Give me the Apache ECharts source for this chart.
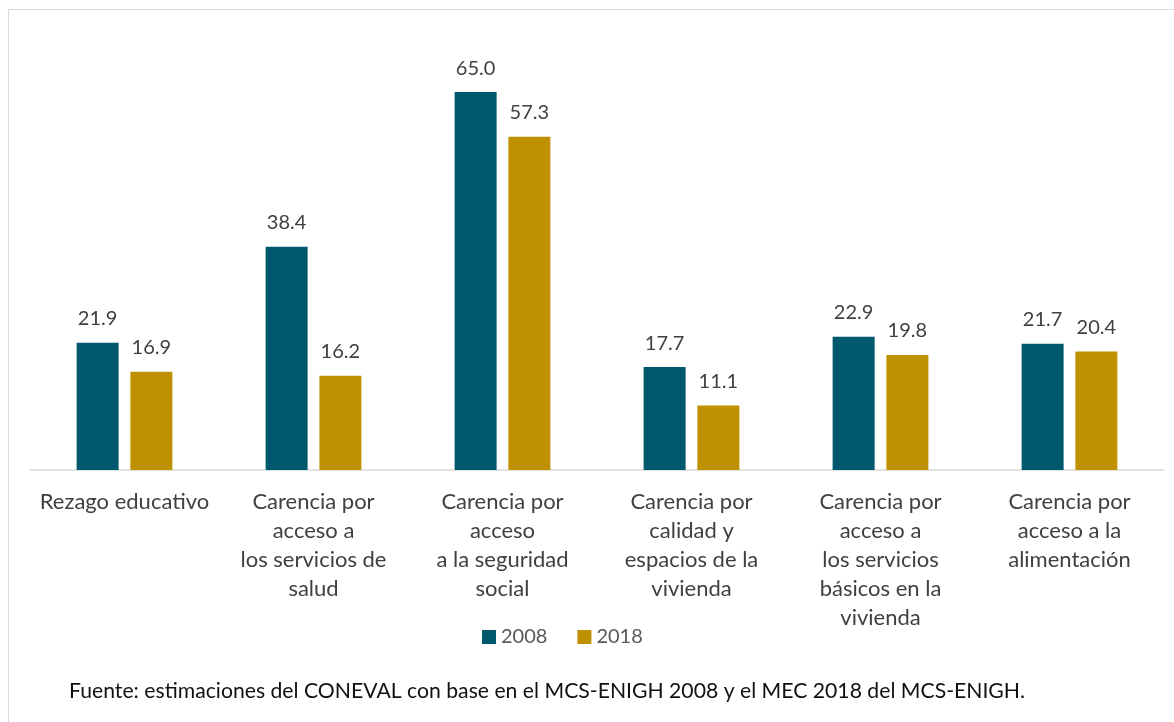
<!DOCTYPE html>
<html>
<head>
<meta charset="utf-8">
<script src="https://cdn.jsdelivr.net/npm/echarts@6/dist/echarts.min.js"></script>
<style>
  html, body { margin: 0; padding: 0; background: #fff; }
  #chart { width: 1174px; height: 722px; }
</style>
</head>
<body>
<div id="chart"></div>
<script>
// categorias y valores
const categories = [
  'Rezago educativo',
  'Carencia por\nacceso a\nlos servicios de\nsalud',
  'Carencia por\nacceso\na la seguridad\nsocial',
  'Carencia por\ncalidad y\nespacios de la\nvivienda',
  'Carencia por\nacceso a\nlos servicios\nbásicos en la\nvivienda',
  'Carencia por\nacceso a la\nalimentación'
];
const values2008 = [21.9, 38.4, 65.0, 17.7, 22.9, 21.7];
const values2018 = [16.9, 16.2, 57.3, 11.1, 19.8, 20.4];
const seriesNames = ['2008', '2018'];
const source = 'Fuente: estimaciones del CONEVAL con base en el MCS-ENIGH 2008 y el MEC 2018 del MCS-ENIGH.';

const font = 'Lato, "Open Sans", sans-serif';
const teal = '#00586E';
const gold = '#BF9000';

const chart = echarts.init(document.getElementById('chart'));

const label = {
  show: true,
  position: 'top',
  distance: 14,
  color: '#404040',
  fontFamily: font,
  fontSize: 20,
  formatter: p => p.value.toFixed(1)
};

chart.setOption({
  animation: false,
  textStyle: { fontFamily: font },
  graphic: [{
    type: 'rect',
    shape: { x: 8.5, y: 9.5, width: 1300, height: 900 },
    style: { fill: 'none', stroke: '#d9d9d9', lineWidth: 1 },
    silent: true
  }],
  title: {
    text: source,
    left: 64,
    top: 676,
    textStyle: { fontFamily: font, fontSize: 21.2, fontWeight: 'normal', color: '#111' }
  },
  legend: {
    data: seriesNames,
    left: 477,
    top: 622,
    icon: 'rect',
    itemWidth: 14,
    itemHeight: 14,
    itemGap: 30,
    textStyle: { fontFamily: font, fontSize: 20, color: '#595959' }
  },
  grid: { left: 30, top: 63, width: 1134, height: 407, containLabel: false },
  xAxis: {
    type: 'category',
    data: categories,
    axisLine: { lineStyle: { color: '#d9d9d9', width: 1.5 } },
    axisTick: { show: false },
    axisLabel: {
      interval: 0,
      margin: 17,
      color: '#404040',
      fontFamily: font,
      fontSize: 22,
      lineHeight: 29
    }
  },
  yAxis: {
    type: 'value',
    min: 0,
    max: 70,
    show: false,
    splitLine: { show: false }
  },
  series: [
    {
      name: seriesNames[0],
      type: 'bar',
      data: values2008,
      barWidth: 42,
      barGap: '28%',
      itemStyle: { color: teal },
      label: label
    },
    {
      name: seriesNames[1],
      type: 'bar',
      data: values2018,
      barWidth: 42,
      barGap: '28%',
      itemStyle: { color: gold },
      label: label
    }
  ]
});
</script>
</body>
</html>
